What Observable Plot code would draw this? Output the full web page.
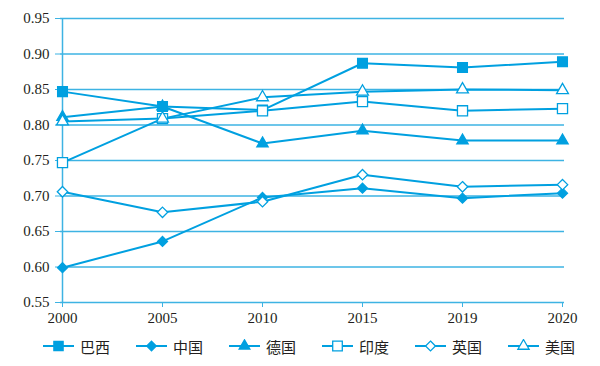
<!DOCTYPE html>
<html>
<head>
<meta charset="utf-8">
<script src="https://cdn.jsdelivr.net/npm/d3@7"></script>
<script src="https://cdn.jsdelivr.net/npm/@observablehq/plot@0.6"></script>
<style>
  html, body { margin: 0; padding: 0; background: #fff; }
  #chart { width: 600px; }
  #chart svg text { font-family: "Liberation Serif", serif !important; font-variant: normal !important; }
  #legend { display: flex; gap: 26px; padding-left: 43px; height: 36px; align-items: center; margin-top: -2px;
    font-family: "Noto Sans CJK SC", sans-serif; font-size: 15px; color: #231f20; }
  .item { display: flex; align-items: center; gap: 6px; }
</style>
</head>
<body>
<div id="chart"></div>
<div id="legend"></div>
<script>
const years = ["2000", "2005", "2010", "2015", "2019", "2020"];
const seriesNames = ["巴西", "中国", "德国", "印度", "英国", "美国"];
const brazil  = [0.847, 0.826, 0.821, 0.887, 0.881, 0.889];
const china   = [0.599, 0.636, 0.698, 0.711, 0.697, 0.704];
const germany = [0.811, 0.826, 0.774, 0.792, 0.778, 0.778];
const india   = [0.747, 0.809, 0.820, 0.833, 0.820, 0.823];
const uk      = [0.706, 0.677, 0.692, 0.730, 0.713, 0.716];
const usa     = [0.805, 0.809, 0.839, 0.847, 0.850, 0.849];
const yTicks  = [0.55, 0.60, 0.65, 0.70, 0.75, 0.80, 0.85, 0.90, 0.95];

const blue = "#00a0e0";
const gridBlue = "#3db3e3";
const serif = "Liberation Serif";

const markerSpec = [
  {symbol: "square", fill: blue, r: 5.5},
  {symbol: "diamond2", fill: blue, r: 4.5},
  {symbol: "triangle", fill: blue, r: 4.2},
  {symbol: "square", fill: "white", r: 5.7},
  {symbol: "diamond2", fill: "white", r: 4.7},
  {symbol: "triangle", fill: "white", r: 4.4}
];
const allValues = [brazil, china, germany, india, uk, usa];

const rows = [];
allValues.forEach((vals, i) => {
  vals.forEach((v, j) => rows.push({series: seriesNames[i], year: years[j], value: v}));
});

const marks = [
  Plot.gridY(yTicks, {stroke: gridBlue, strokeOpacity: 1, strokeWidth: 1.3}),
  Plot.ruleX([years[0]], {stroke: gridBlue, strokeWidth: 1.5}),
  Plot.axisY(yTicks, {tickSize: 5, tickPadding: 6, stroke: gridBlue, fill: "#231f20", tickFormat: d3.format(".2f"), fontSize: 15, fontFamily: serif}),
  Plot.axisX({tickSize: 5, tickPadding: 5, stroke: gridBlue, fill: "#231f20", fontSize: 15, fontFamily: serif}),
];
seriesNames.forEach((name) => {
  const data = rows.filter(r => r.series === name);
  marks.push(Plot.line(data, {x: "year", y: "value", stroke: blue, strokeWidth: 2}));
});
seriesNames.forEach((name, i) => {
  const data = rows.filter(r => r.series === name);
  const m = markerSpec[i];
  marks.push(Plot.dot(data, {x: "year", y: "value", symbol: m.symbol, r: m.r, fill: m.fill, stroke: blue, strokeWidth: 1.3}));
});

const chart = Plot.plot({
  width: 600,
  height: 330,
  marginLeft: 60,
  marginRight: 36,
  marginTop: 18,
  marginBottom: 28,
  style: {fontSize: "15px", fontFamily: serif, color: "#231f20", background: "white"},
  x: {type: "point", domain: years, padding: 0, label: null},
  y: {domain: [0.55, 0.95], label: null},
  marks
});
document.getElementById("chart").appendChild(chart);

// legend
const legend = document.getElementById("legend");
const typeMap = {square: d3.symbolSquare, diamond2: d3.symbolDiamond2, triangle: d3.symbolTriangle};
seriesNames.forEach((name, i) => {
  const m = markerSpec[i];
  const item = document.createElement("div");
  item.className = "item";
  const path = d3.symbol(typeMap[m.symbol], Math.PI * m.r * m.r * 0.9)();
  item.innerHTML = `<svg width="31" height="14"><line x1="0" x2="31" y1="7" y2="7" stroke="${blue}" stroke-width="2"/>` +
    `<path d="${path}" transform="translate(15.5,7)" fill="${m.fill}" stroke="${blue}" stroke-width="1.3"/></svg>` +
    `<span>${name}</span>`;
  legend.appendChild(item);
});
</script>
</body>
</html>
